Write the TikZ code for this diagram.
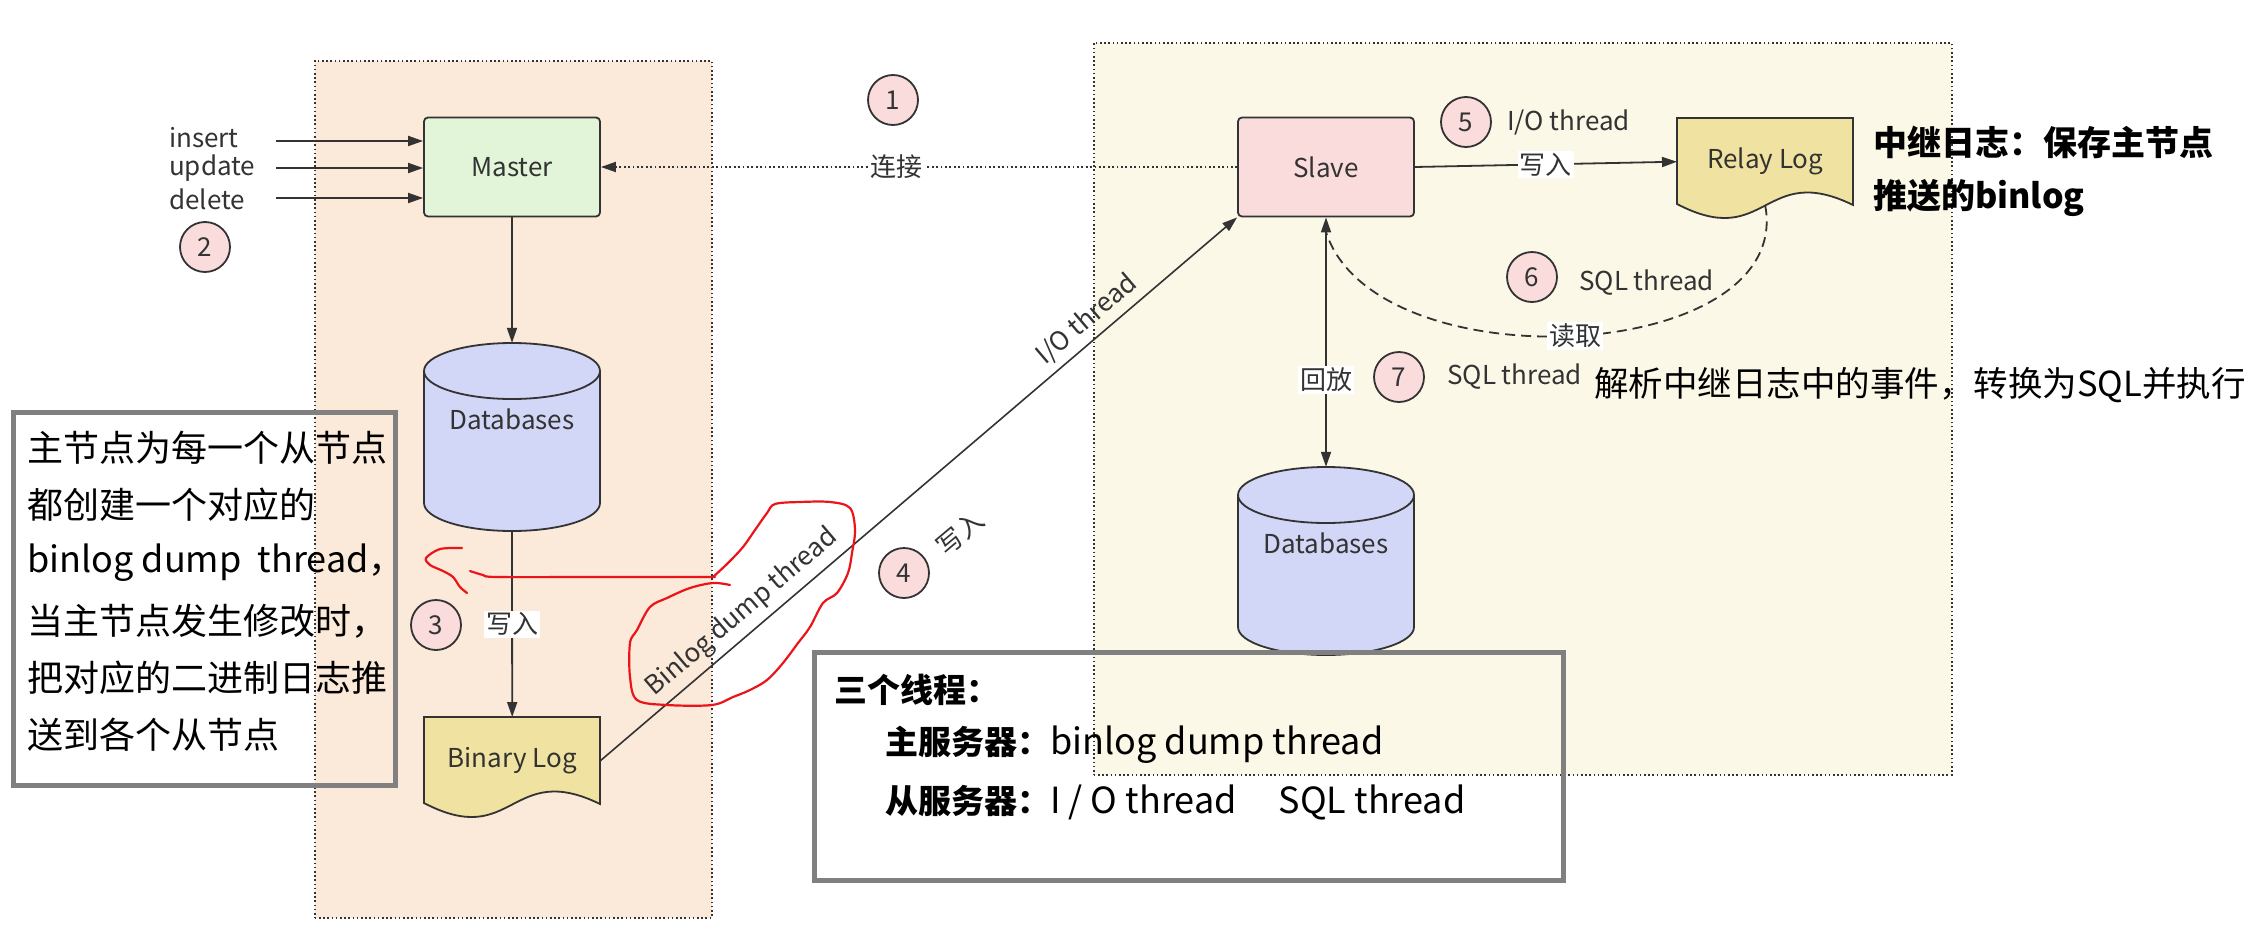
\documentclass[tikz,border=0pt]{standalone}
\usepackage{fontspec}
\setmainfont{Noto Sans CJK SC}
\usetikzlibrary{arrows.meta}
\definecolor{peach}{RGB}{251,233,217}
\definecolor{cream}{RGB}{252,248,232}
\definecolor{mastergreen}{RGB}{226,245,217}
\definecolor{slavepink}{RGB}{250,220,220}
\definecolor{dbblue}{RGB}{210,214,247}
\definecolor{logyellow}{RGB}{240,226,160}
\definecolor{ink}{RGB}{51,51,51}
\definecolor{scribble}{RGB}{235,20,25}
\definecolor{boxgray}{RGB}{128,128,128}
\newcommand\dbcyl[3]{%
  \node[minimum width=176pt, minimum height=188pt, inner sep=0pt] (#1) at (#2,#3+94) {};
  \path[draw=ink, line width=1.8pt, fill=dbblue] (#2-88,#3+28) -- (#2-88,#3+160)
    arc[start angle=180,end angle=360,x radius=88pt,y radius=28pt] -- (#2+88,#3+28)
    arc[start angle=0,end angle=180,x radius=88pt,y radius=28pt] -- cycle;
  \draw[ink, line width=1.8pt] (#2-88,#3+28) arc[start angle=180,end angle=360,x radius=88pt,y radius=28pt];
  \node[lbl] (#1text) at (#2,#3+76) {Databases};
}
\newcommand\logdoc[4]{%
  \path[draw=ink, line width=1.8pt, fill=logyellow] (#2,#3) -- (#2+176,#3) -- (#2+176,#3+87)
    .. controls (#2+86,#3+43) and (#2+90,#3+133) .. (#2,#3+86) -- cycle;
  \node[lbl, minimum width=176pt, minimum height=87pt, inner sep=0pt, anchor=north west] (#1) at (#2,#3) {#4};
}
\newcommand\latinpart[1]{{\fontsize{36}{40}\selectfont #1}}
\begin{document}
\begin{tikzpicture}[x=1pt,y=-1pt,
  lbl/.style={font=\fontsize{26}{30}\selectfont, text=ink},
  region/.style={draw=ink, line width=1.6pt, dash pattern=on 1.6pt off 2.6pt},
  procbox/.style={draw=ink, line width=1.8pt, rounded corners=4pt, minimum width=176pt, minimum height=99pt, lbl},
  arr/.style={draw=ink, line width=1.8pt, -{Triangle[length=15pt,width=10pt]}},
  dotarr/.style={draw=ink, line width=1.8pt, dash pattern=on 1.8pt off 2.6pt, -{Triangle[length=15pt,width=10pt]}},
  numc/.style={circle, draw=ink, line width=1.8pt, fill=slavepink, minimum size=50pt, inner sep=0pt, lbl},
  wlbl/.style={lbl, fill=white, inner sep=2pt},
  note/.style={draw=boxgray, line width=5pt, inner sep=0pt},
  notetext/.style={anchor=west, inner sep=0pt, font=\fontsize{36}{40}\selectfont, text=black},
  boxtext/.style={anchor=west, inner sep=0pt, font=\fontsize{33}{40}\selectfont, text=black},
  sidetext/.style={anchor=west, inner sep=0pt, text=black},
  redpen/.style={draw=scribble, line width=2.2pt, line cap=round, line join=round}
]
\useasboundingbox (0,0) rectangle (2256,934);

% zones
\node[region, fill=peach, minimum width=397pt, minimum height=857pt, anchor=north west] (masterzone) at (314,60) {};
\node[region, fill=cream, minimum width=858pt, minimum height=732pt, anchor=north west] (slavezone) at (1093,42) {};

% main shapes
\node[procbox, fill=mastergreen] (master) at (512,167) {Master};
\node[procbox, fill=slavepink] (slave) at (1326,167) {Slave};
\dbcyl{dbm}{512}{343}
\dbcyl{dbs}{1326}{467}
\logdoc{binlog}{424}{717}{Binary Log}
\logdoc{relaylog}{1677}{118}{Relay Log}

% inputs
\node[lbl, anchor=west, inner sep=0pt] (tins) at (169,138) {insert};
\node[lbl, anchor=west, inner sep=0pt] (tupd) at (169,168) {update};
\node[lbl, anchor=west, inner sep=0pt] (tdel) at (169,199) {delete};
\coordinate (ins) at (276,141);
\coordinate (upd) at (276,168);
\coordinate (del) at (276,198);
\draw[arr] (ins) -- (ins -| master.west);
\draw[arr] (upd) -- (upd -| master.west);
\draw[arr] (del) -- (del -| master.west);

% connectors
\draw[arr] (master) -- (dbm);
\draw[arr] (dbm.south) -- node[midway, wlbl] {写入} (binlog.north);
\draw[dotarr] (slave.west) -- node[pos=0.535, wlbl] {连接} (master.east);
\draw[draw=ink, line width=1.6pt, -{Triangle[length=15pt,width=10pt]}] (binlog.east)
  -- node[pos=0.244, sloped, above=3pt, lbl] {Binlog dump thread}
     node[pos=0.784, sloped, above=3pt, lbl] {I/O thread} (slave.south west);
\draw[arr] (slave.east) -- node[midway, wlbl] {写入} (relaylog.west);
\draw[draw=ink, line width=1.8pt, dash pattern=on 10pt off 6pt] (relaylog.south)
  .. controls (1795,365) and (1375,385) .. (1326,232) node[pos=0.5, wlbl] (readlbl) {读取};
\draw[draw=ink, line width=1.8pt, {Triangle[length=15pt,width=10pt]}-{Triangle[length=15pt,width=10pt]}]
  (slave.south) -- node[pos=0.652, wlbl] {回放} (dbs.north);

% step circles
\node[numc] (c1) at (893,100) {1};
\node[numc] (c2) at (205,247) {2};
\node[numc] (c3) at (436,625) {3};
\node[numc] (c4) at (904,573) {4};
\node[numc] (c5) at (1466,122) {5};
\node[numc] (c6) at (1532,277) {6};
\node[numc] (c7) at (1399,377) {7};
\node[lbl, rotate=40] (w4) at (960,533) {写入};
\node[lbl, anchor=west, inner sep=0pt] (io5) at (1507,122) {I/O thread};
\node[lbl, anchor=west, inner sep=0pt] (sql6) at (1579,283) {SQL thread};
\node[lbl, anchor=west, inner sep=0pt] (sql7) at (1447,377) {SQL thread};

% side notes
\node[sidetext, font=\fontsize{34}{40}\selectfont\bfseries] (relaynote1) at (1873,142) {中继日志：保存主节点};
\node[sidetext, font=\fontsize{34}{40}\selectfont\bfseries] (relaynote2) at (1873,198) {推送的binlog};
\node[sidetext, font=\fontsize{34.5}{40}\selectfont] (sqlnote) at (1594,385) {解析中继日志中的事件，转换为SQL并执行};

% left annotation box
\node[note, minimum width=382pt, minimum height=373pt, anchor=north west] (leftnote) at (11,410) {};
\node[notetext] (ln1) at (27,448) {主节点为每一个从节点};
\node[notetext] (ln2) at (27,505) {都创建一个对应的};
\node[notetext] (ln3) at (27,563) {binlog dump\ \ thread，};
\node[notetext] (ln4) at (27,621) {当主节点发生修改时，};
\node[notetext] (ln5) at (27,678) {把对应的二进制日志推};
\node[notetext] (ln6) at (27,735) {送到各个从节点};

% bottom box
\node[note, minimum width=749pt, minimum height=228pt, anchor=north west] (threads) at (812,650) {};
\node[boxtext] (bt1) at (834,690) {\textbf{三个线程：}};
\node[boxtext] (bt2) at (885,745) {\textbf{主服务器：}\latinpart{binlog dump thread}};
\node[boxtext] (bt3) at (885,802) {\textbf{从服务器：}\latinpart{I / O thread\hspace{42pt}SQL thread}};

% red hand-drawn marks
\draw[redpen] plot[smooth, tension=0.55] coordinates {(713,577) (728,563) (743,547) (755,530) (767,513) (775,504) (800,502) (830,502) (850,508) (855,530) (852,553) (848,573) (837,593) (823,603) (810,627) (798,643) (783,663) (767,680) (750,690) (733,697) (712,705) (667,705) (637,700) (630,677) (630,643) (637,630) (650,607) (667,598) (690,588) (713,583) (730,585)};
\draw[redpen] plot[smooth, tension=0.5] coordinates {(715,577) (600,577) (497,577) (483,575) (470,571)};
\draw[redpen] plot[smooth, tension=0.5] coordinates {(462,548) (440,549) (426,558) (430,565) (443,571) (453,577) (460,587) (467,593)};
\end{tikzpicture}
\end{document}
